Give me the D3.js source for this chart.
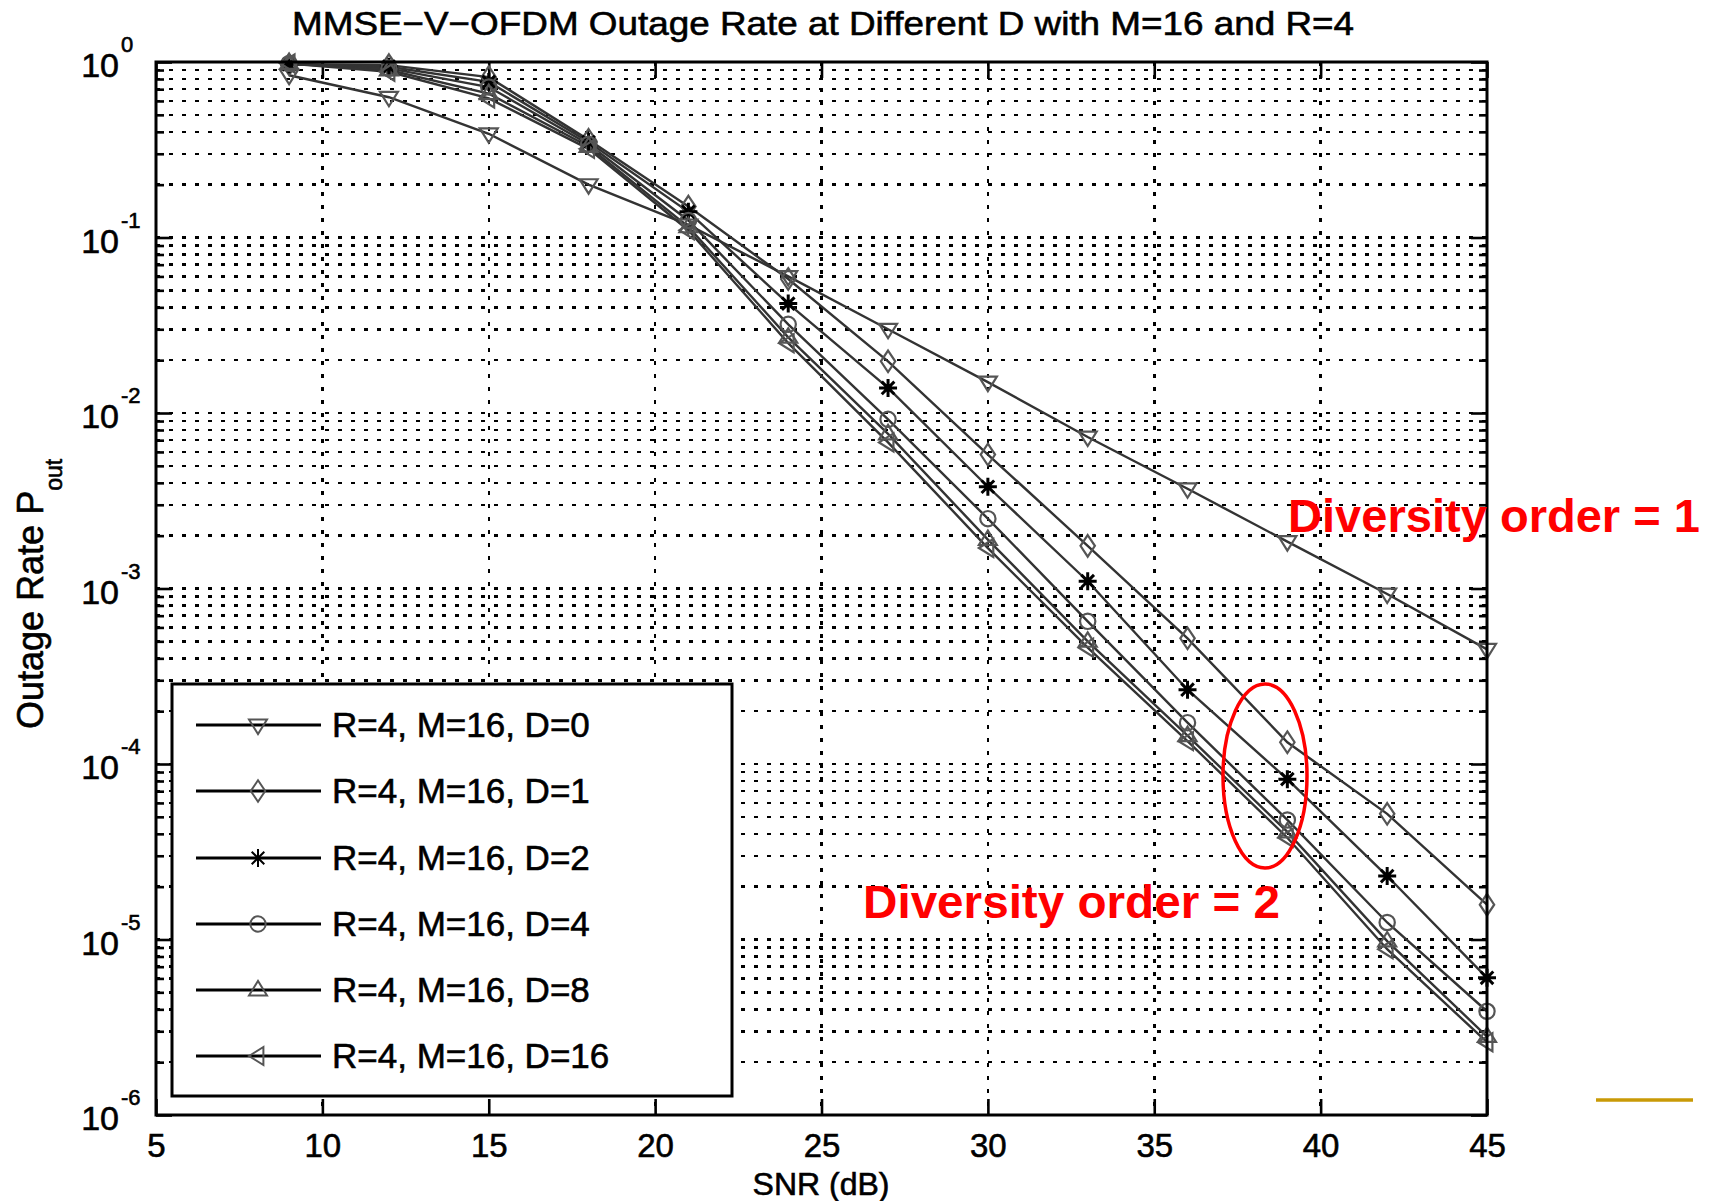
<!DOCTYPE html>
<html><head><meta charset="utf-8">
<script src="https://cdn.jsdelivr.net/npm/d3@7"></script>
<style>
body{margin:0;background:#fff}
text{font-family:"Liberation Sans",Arial,Helvetica,sans-serif;fill:#000}
.hv{stroke:#000;stroke-width:0.6px}
</style>
</head><body>
<svg id="c" width="1715" height="1201"></svg>
<script>
// ---- data ----
const snr = [9,12,15,18,21,24,27,30,33,36,39,42,45];
const outD0  = [0.84,0.63,0.39,0.20,0.118,0.060,0.030,0.0150,0.0073,0.0037,0.00185,0.00093,0.00045];
const outD1  = [0.97,0.96,0.82,0.36,0.150,0.058,0.0197,0.0058,0.00175,0.00052,0.000133,5.2e-5,1.58e-5];
const outD2  = [0.97,0.94,0.77,0.35,0.140,0.042,0.0139,0.0038,0.00110,0.000265,8.2e-5,2.3e-5,6.05e-6];
const outD4  = [0.98,0.92,0.72,0.34,0.125,0.032,0.0092,0.0025,0.00065,0.000172,4.8e-5,1.25e-5,3.9e-6];
const outD8  = [0.98,0.90,0.66,0.33,0.115,0.027,0.0076,0.0019,0.00050,0.000145,4.1e-5,9.8e-6,2.8e-6];
const outD16 = [0.98,0.88,0.62,0.32,0.110,0.025,0.0068,0.0017,0.00046,0.000135,3.8e-5,8.8e-6,2.6e-6];
const seriesValues = [outD0,outD1,outD2,outD4,outD8,outD16];
const legendLabels = ["R=4, M=16, D=0","R=4, M=16, D=1","R=4, M=16, D=2","R=4, M=16, D=4","R=4, M=16, D=8","R=4, M=16, D=16"];
const markerTypes = ["v","d","*","o","^","<"];
const xTicks = [5,10,15,20,25,30,35,40,45];
const yExponents = [0,-1,-2,-3,-4,-5,-6];
const titleText = "MMSE\u2212V\u2212OFDM Outage Rate at Different D with M=16 and R=4";
const xLabelText = "SNR (dB)";
const yLabelText = "Outage Rate P";
const yLabelSub = "out";
const annoText1 = "Diversity order = 1";
const annoText2 = "Diversity order = 2";

// ---- setup ----
const svg = d3.select("#c");
const L=156, R=1487, T=62, B=1115;
const x = d3.scaleLinear().domain([5,45]).range([L,R]);
const y = d3.scaleLog().domain([1e-6,1]).range([B,T]);

// grid
const grid = svg.append("g").attr("stroke","#000").attr("stroke-width",2.5)
  .attr("stroke-dasharray","4,9").attr("shape-rendering","crispEdges");
xTicks.slice(1,-1).forEach(v=>{
  grid.append("line").attr("x1",x(v)).attr("x2",x(v)).attr("y1",T).attr("y2",B);
});
const yGridVals = [];
yExponents.forEach(e=>{ for(let k=1;k<=9;k++){ const v=k*Math.pow(10,e); if(v>1.0001e-6 && v<0.9999) yGridVals.push(v);} });
yGridVals.forEach(v=>{
  grid.append("line").attr("x1",L).attr("x2",R).attr("y1",y(v)).attr("y2",y(v));
});

// ticks via d3 axes
const majorY = yExponents.map(e=>Math.pow(10,e));
const minorY = yGridVals.filter(v=>!majorY.some(m=>Math.abs(m-v)/v<1e-6));
function styleAxis(g){ g.select(".domain").remove(); g.selectAll(".tick line").attr("stroke","#000").attr("stroke-width",2.6); }
svg.append("g").attr("transform",`translate(0,${B})`)
  .call(d3.axisBottom(x).tickValues(xTicks).tickSize(-16).tickPadding(19).tickFormat(d=>d))
  .call(styleAxis)
  .call(g=>g.selectAll(".tick text").attr("font-size",33).attr("class","hv")
    .attr("font-family","Liberation Sans, Arial, sans-serif").attr("fill","#000"));
svg.append("g").attr("transform",`translate(0,${T})`)
  .call(d3.axisTop(x).tickValues(xTicks).tickSize(-16).tickFormat("")).call(styleAxis);
svg.append("g").attr("transform",`translate(${L},0)`)
  .call(d3.axisLeft(y).tickValues(majorY).tickSize(-16).tickFormat("")).call(styleAxis);
svg.append("g").attr("transform",`translate(${L},0)`)
  .call(d3.axisLeft(y).tickValues(minorY).tickSize(-8).tickFormat("")).call(styleAxis);
svg.append("g").attr("transform",`translate(${R},0)`)
  .call(d3.axisRight(y).tickValues(majorY).tickSize(-16).tickFormat("")).call(styleAxis);
svg.append("g").attr("transform",`translate(${R},0)`)
  .call(d3.axisRight(y).tickValues(minorY).tickSize(-8).tickFormat("")).call(styleAxis);

// y tick labels 10^e
yExponents.forEach(e=>{
  const yy = y(Math.pow(10,e));
  svg.append("text").attr("class","hv").attr("x",119).attr("y",yy+15).attr("text-anchor","end").attr("font-size",34).text("10");
  svg.append("text").attr("class","hv").attr("x",121).attr("y",yy-10).attr("font-size",22).text(String(e));
});

// markers
function marker(g, type, cx, cy, s, stroke, sw){
  const r = s;
  let el;
  if(type==="o"){
    el = g.append("circle").attr("cx",cx).attr("cy",cy).attr("r",r*0.85);
  } else if(type==="*"){
    const p = `M${cx},${cy-r}L${cx},${cy+r}M${cx-r},${cy}L${cx+r},${cy}M${cx-r*0.7},${cy-r*0.7}L${cx+r*0.7},${cy+r*0.7}M${cx-r*0.7},${cy+r*0.7}L${cx+r*0.7},${cy-r*0.7}`;
    el = g.append("path").attr("d",p);
  } else {
    let pts;
    if(type==="v") pts=[[-r,-0.6*r],[r,-0.6*r],[0,r]];
    if(type==="^") pts=[[-r,0.6*r],[r,0.6*r],[0,-r]];
    if(type==="<") pts=[[-r,0],[0.6*r,-r],[0.6*r,r]];
    if(type==="d") pts=[[0,-1.2*r],[0.8*r,0],[0,1.2*r],[-0.8*r,0]];
    el = g.append("path").attr("d","M"+pts.map(p=>[cx+p[0],cy+p[1]].join(",")).join("L")+"Z");
  }
  el.attr("fill","none").attr("stroke",stroke).attr("stroke-width",sw);
}

// series
const line = d3.line().x(d=>x(d[0])).y(d=>y(d[1]));
const plotG = svg.append("g");
seriesValues.forEach((vals,i)=>{
  const pts = snr.map((s,j)=>[s,vals[j]]);
  plotG.append("path").datum(pts).attr("d",line).attr("fill","none")
    .attr("stroke","#333").attr("stroke-width",2.4);
});
seriesValues.forEach((vals,i)=>{
  const t = markerTypes[i];
  snr.forEach((s,j)=>{
    marker(plotG, t, x(s), y(vals[j]), 9, t==="*"?"#000":"#555", t==="*"?3:2.2);
  });
});

// frame
svg.append("rect").attr("x",L).attr("y",T).attr("width",R-L).attr("height",B-T)
  .attr("fill","none").attr("stroke","#000").attr("stroke-width",3);

// legend
const lg = svg.append("g");
lg.append("rect").attr("x",172).attr("y",684).attr("width",560).attr("height",412)
  .attr("fill","#fff").attr("stroke","#000").attr("stroke-width",3);
const legendY = [725,791,858,924,990,1056];
legendLabels.forEach((lab,i)=>{
  const ly = legendY[i];
  lg.append("line").attr("x1",196).attr("x2",321).attr("y1",ly).attr("y2",ly).attr("stroke","#000").attr("stroke-width",3);
  marker(lg, markerTypes[i], 258, ly, 9, markerTypes[i]==="*"?"#000":"#555", 2);
  lg.append("text").attr("class","hv").attr("x",332).attr("y",ly+12).attr("font-size",35).text(lab);
});

// title and axis labels
svg.append("text").attr("class","hv").attr("x",823).attr("y",35).attr("text-anchor","middle").attr("font-size",34)
  .attr("textLength",1062).attr("lengthAdjust","spacingAndGlyphs").text(titleText);
svg.append("text").attr("class","hv").attr("x",821).attr("y",1195).attr("text-anchor","middle").attr("font-size",32).text(xLabelText);
const yl = svg.append("text").attr("class","hv").attr("transform","translate(43,729) rotate(-90)").attr("font-size",36);
yl.append("tspan").text(yLabelText);
yl.append("tspan").attr("font-size",23).attr("dy",19).text(yLabelSub);

// annotations
svg.append("text").attr("x",1288).attr("y",532).attr("font-size",47).attr("font-weight","bold")
  .style("fill","#ff0000").attr("textLength",412).attr("lengthAdjust","spacingAndGlyphs").text(annoText1);
svg.append("text").attr("x",863).attr("y",918).attr("font-size",47).attr("font-weight","bold")
  .style("fill","#ff0000").attr("textLength",417).attr("lengthAdjust","spacingAndGlyphs").text(annoText2);
svg.append("ellipse").attr("cx",1265).attr("cy",776).attr("rx",42).attr("ry",92)
  .attr("fill","none").attr("stroke","#ff0000").attr("stroke-width",3.5);
svg.append("line").attr("x1",1596).attr("x2",1693).attr("y1",1100).attr("y2",1100)
  .attr("stroke","#c99a06").attr("stroke-width",3.5);
</script>
</body></html>
